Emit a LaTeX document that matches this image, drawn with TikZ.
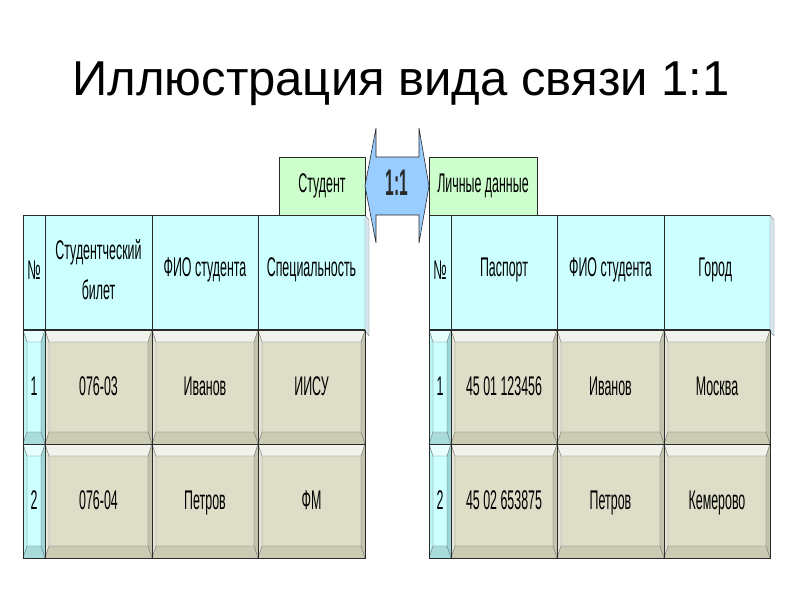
\documentclass[tikz,border=0pt]{standalone}
\usepackage{fontspec}
\setmainfont{Liberation Sans}
\newfontfamily\narrowfont{Liberation Sans}[FakeStretch=0.46]
\newfontfamily\relfont{Liberation Sans}[FakeStretch=0.42]
\usepackage{xcolor}
\usepackage{tikz}
\usetikzlibrary{positioning}
\definecolor{hdr}{HTML}{CCFFFF}
\definecolor{ent}{HTML}{CCFFCC}
\definecolor{rel}{HTML}{99CCFF}
\definecolor{edge}{HTML}{2A2A2A}
\definecolor{side}{HTML}{D6E6EE}
\definecolor{cellM}{HTML}{DDDDC8}
\definecolor{cellT}{HTML}{F2F2EC}
\definecolor{cellL}{HTML}{E6E6D8}
\definecolor{cellR}{HTML}{C4C4AE}
\definecolor{cellB}{HTML}{CBCBB4}
\definecolor{nrM}{HTML}{CCFFFF}
\definecolor{nrT}{HTML}{E6FFFF}
\definecolor{nrL}{HTML}{BDF4F4}
\definecolor{nrR}{HTML}{9CD6D6}
\definecolor{nrB}{HTML}{A8DCDC}

\begin{document}
\begin{tikzpicture}[x=1pt, y=-1pt,
    txt/.style={font=\narrowfont\fontsize{27}{40}\selectfont, align=center, inner sep=0pt},
    entity/.style={txt, draw=edge, fill=ent, line width=0.6pt, minimum height=58}]
  \useasboundingbox (0,0) rectangle (800,600);
  \def\bw{4}
  \def\bh{12}
  \node[font=\fontsize{49}{55}\selectfont, anchor=base] (title) at (401,95) {Иллюстрация вида связи 1:1};
  \foreach \xa/\xb/\txt [count=\hi] in {
      23/45/№, 45/152/{Студентческий\\билет}, 152/258/ФИО студента, 258/365/Специальность,
      429/451/№, 451/557/Паспорт, 557/664/ФИО студента, 664/770/Город
  } {
    \filldraw[fill=hdr, draw=edge, line width=0.6pt] (\xa,215) rectangle (\xb,329);
    \node[txt] (h\hi) at ({(\xa+\xb)/2},270) {\txt};
  }
  \foreach \xr in {365, 770} {
    \filldraw[fill=side, draw=edge!60, line width=0.4pt] (\xr,215) -- (\xr+4,220) -- (\xr+4,336) -- (\xr,331) -- cycle;
  }
  \foreach \xa/\xb/\ya/\txt/\kd [count=\ci] in {
      23/45/330/1/0, 45/152/330/076-03/1, 152/258/330/Иванов/1, 258/365/330/ИИСУ/1,
      23/45/444/2/0, 45/152/444/076-04/1, 152/258/444/Петров/1, 258/365/444/ФМ/1,
      429/451/330/1/0, 451/557/330/45 01 123456/1, 557/664/330/Иванов/1, 664/770/330/Москва/1,
      429/451/444/2/0, 451/557/444/45 02 653875/1, 557/664/444/Петров/1, 664/770/444/Кемерово/1
  } {
    \pgfmathsetmacro{\yb}{\ya+114}
    \ifnum\kd=0 \def\pal{nr}\else\def\pal{cell}\fi
    \fill[fill=\pal M] (\xa+\bw,\ya+\bh) rectangle (\xb-\bw,\yb-\bh);
    \fill[fill=\pal T] (\xa,\ya) -- (\xb,\ya) -- (\xb-\bw,\ya+\bh) -- (\xa+\bw,\ya+\bh) -- cycle;
    \fill[fill=\pal B] (\xa,\yb) -- (\xb,\yb) -- (\xb-\bw,\yb-\bh) -- (\xa+\bw,\yb-\bh) -- cycle;
    \fill[fill=\pal L] (\xa,\ya) -- (\xa+\bw,\ya+\bh) -- (\xa+\bw,\yb-\bh) -- (\xa,\yb) -- cycle;
    \fill[fill=\pal R] (\xb,\ya) -- (\xb-\bw,\ya+\bh) -- (\xb-\bw,\yb-\bh) -- (\xb,\yb) -- cycle;
    \draw[edge!70, line width=0.4pt] (\xa+\bw,\ya+\bh) rectangle (\xb-\bw,\yb-\bh)
      (\xa,\ya) -- (\xa+\bw,\ya+\bh) (\xb,\ya) -- (\xb-\bw,\ya+\bh)
      (\xa,\yb) -- (\xa+\bw,\yb-\bh) (\xb,\yb) -- (\xb-\bw,\yb-\bh);
    \draw[edge, line width=0.7pt] (\xa,\ya) rectangle (\xb,\yb);
    \node[txt, anchor=base] (d\ci) at ({(\xa+\xb)/2},\ya+65) {\txt};
  }
  \node[entity, minimum width=86] (stud) at (322,186) {Студент};
  \node[entity, minimum width=108] (pers) at (483,186) {Личные данные};
  \filldraw[fill=rel, draw=edge, line width=0.6pt] (365,186) -- (376,128) -- (376,157) -- (419,157) -- (419,128)
    -- (429,186) -- (419,243) -- (419,215) -- (376,215) -- (376,243) -- cycle;
  \node[font=\relfont\bfseries\fontsize{37}{40}\selectfont, inner sep=0pt, text=edge] (rel) at (397,183) {1:1};
\end{tikzpicture}
\end{document}
